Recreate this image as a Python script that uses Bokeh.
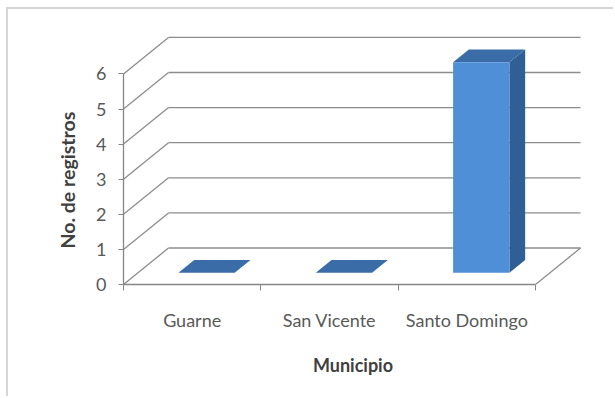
from bokeh.plotting import figure
from bokeh.models import Range1d, FixedTicker, Title
from bokeh.embed import file_html
from bokeh.resources import INLINE

# ---- data ----
categories = ["Guarne", "San Vicente", "Santo Domingo"]
values = [0, 0, 6]
y_ticks = [0, 1, 2, 3, 4, 5, 6]
x_title = "Municipio"
y_title = "No. de registros"

# ---- 3D look (styling) ----
DX = 0.3277   # depth offset along x (category units)
DY = 1.04     # depth offset along y (value units)
D0, D1 = 0.32, 0.67  # bar depth start/end as fraction of depth
W = 0.41      # bar width (category units)
GRID = "#8c8c8c"
FONT = "Lato"

n = len(categories)

p = figure(width=607, height=389,
           x_range=Range1d(0, 3.342), y_range=Range1d(0, 7.151),
           output_backend="svg", toolbar_location=None,
           min_border_left=115, min_border_right=33,
           min_border_top=24, min_border_bottom=114,
           margin=(7, 0, 0, 6))
p.styles = {"border-left": "2px solid #d6d6d6", "border-top": "2px solid #d6d6d6"}
p.outline_line_color = None
p.xgrid.visible = False
p.ygrid.visible = False
p.background_fill_color = "white"
p.border_fill_color = "white"

# back wall gridlines
p.segment(x0=[DX] * len(y_ticks), y0=[v + DY for v in y_ticks],
          x1=[n + DX] * len(y_ticks), y1=[v + DY for v in y_ticks],
          line_color=GRID, line_width=1.3)
# left wall diagonals
p.segment(x0=[0] * len(y_ticks), y0=y_ticks,
          x1=[DX] * len(y_ticks), y1=[v + DY for v in y_ticks],
          line_color=GRID, line_width=1.3)
# floor right edge
p.segment(x0=[n], y0=[0], x1=[n + DX], y1=[DY], line_color=GRID, line_width=1.3)

# bars
front_xs, front_ys, side_xs, side_ys, top_xs, top_ys = [], [], [], [], [], []
for i, v in enumerate(values):
    c = i + 0.5
    x0, x1 = c - W / 2, c + W / 2
    a0x, a0y = D0 * DX, D0 * DY
    a1x, a1y = D1 * DX, D1 * DY
    front_xs.append([x0 + a0x, x1 + a0x, x1 + a0x, x0 + a0x])
    front_ys.append([a0y, a0y, v + a0y, v + a0y])
    side_xs.append([x1 + a0x, x1 + a1x, x1 + a1x, x1 + a0x])
    side_ys.append([a0y, a1y, v + a1y, v + a0y])
    top_xs.append([x0 + a0x, x1 + a0x, x1 + a1x, x0 + a1x])
    top_ys.append([v + a0y, v + a0y, v + a1y, v + a1y])

p.patches(side_xs, side_ys, fill_color="#2f5f94", line_color=None)
p.patches(top_xs, top_ys, fill_color="#3a6ca7", line_color=None)
p.patches(front_xs, front_ys, fill_color="#4f8fd8", line_color=None)

# y axis
ya = p.yaxis[0]
ya.ticker = FixedTicker(ticks=y_ticks, minor_ticks=[])
ya.bounds = (0, 6)
ya.axis_line_color = "#868686"
ya.axis_line_width = 1.3
ya.major_tick_line_color = "#868686"
ya.major_tick_out = 5
ya.major_tick_in = 0
ya.minor_tick_out = 0
ya.minor_tick_in = 0
ya.major_label_standoff = 12
ya.major_label_text_font = FONT
ya.major_label_text_font_size = "18px"
ya.major_label_text_color = "#595959"

# y axis title as a side title, placed to centre on the 0..6 axis
p.add_layout(Title(text=y_title, align="left", offset=36, standoff=30,
                   text_font=FONT, text_font_size="19.5px",
                   text_font_style="bold", text_color="#404040"), "left")

# x axis
xa = p.xaxis[0]
xa.ticker = FixedTicker(ticks=[i + 0.5 for i in range(n)], minor_ticks=list(range(n + 1)))
xa.major_label_overrides = {i + 0.5: c for i, c in enumerate(categories)}
xa.bounds = (0, n)
xa.axis_line_color = "#868686"
xa.axis_line_width = 1.3
xa.major_tick_out = 0
xa.major_tick_in = 0
xa.minor_tick_out = 6
xa.minor_tick_in = 0
xa.minor_tick_line_color = "#868686"
xa.major_label_standoff = 18
xa.major_label_text_font = FONT
xa.major_label_text_font_size = "18px"
xa.major_label_text_color = "#595959"
xa.axis_label = x_title
xa.axis_label_text_font = FONT
xa.axis_label_text_font_size = "18px"
xa.axis_label_text_font_style = "bold"
xa.axis_label_text_color = "#404040"
xa.axis_label_standoff = 20

open("out.html", "w").write(file_html(p, INLINE))
